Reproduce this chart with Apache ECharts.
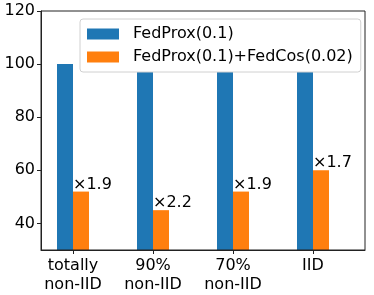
<!DOCTYPE html>
<html><head><meta charset="utf-8">
<script src="https://cdn.jsdelivr.net/npm/echarts@6/dist/echarts.min.js"></script>
<style>html,body{margin:0;padding:0;background:#fff}#c{width:374px;height:295px}</style>
</head><body><div id="c"></div>
<script>
var categories = ['totally\nnon-IID', '90%\nnon-IID', '70%\nnon-IID', 'IID'];
var fedProx = [100, 100, 100, 100];
var fedProxCos = [52, 45, 52, 60];
var speedups = ['×1.9', '×2.2', '×1.9', '×1.7'];
var yTicks = [40, 60, 80, 100, 120];
var seriesNames = ['FedProx(0.1)', 'FedProx(0.1)+FedCos(0.02)'];

var font = 'DejaVu Sans';
var fs = 16;
var chart = echarts.init(document.getElementById('c'), null, {renderer: 'canvas'});
chart.setOption({
  animation: false,
  textStyle: {fontFamily: font},
  grid: [
    {left: 33, right: 21, top: 11, bottom: 45},
    {left: 41, right: 9, top: 11, bottom: 45, show: true, borderColor: '#222', borderWidth: 1, backgroundColor: 'transparent', z: 3}
  ],
  legend: {
    orient: 'vertical', left: 80, top: 19,
    backgroundColor: '#fff', borderColor: '#d0d0d0', borderWidth: 1, borderRadius: 3,
    padding: [7, 8, 7, 7], itemGap: 7, itemWidth: 32, itemHeight: 11, icon: 'rect',
    textStyle: {fontFamily: font, fontSize: fs, color: '#000', padding: [0, 0, 0, 9]},
    data: seriesNames, z: 10
  },
  xAxis: [
    {type: 'category', gridIndex: 0, data: categories,
     axisLine: {show: false},
     axisTick: {show: true, alignWithLabel: true, length: 4, lineStyle: {color: '#222'}},
     axisLabel: {fontFamily: font, fontSize: fs, color: '#000', margin: 6, lineHeight: 19}},
    {type: 'value', gridIndex: 1, min: 0, max: 1, axisLine: {show: true, lineStyle: {color: '#222'}},
     axisTick: {show: false}, axisLabel: {show: false}, splitLine: {show: false}}
  ],
  yAxis: [
    {type: 'value', gridIndex: 0, min: 30, max: 120, show: false, splitLine: {show: false}},
    {type: 'value', gridIndex: 1, min: 30, max: 120,
     axisLine: {show: true, lineStyle: {color: '#222'}},
     axisTick: {show: true, length: 4, lineStyle: {color: '#222'}, customValues: yTicks},
     axisLabel: {fontFamily: font, fontSize: fs, color: '#000', margin: 6, customValues: yTicks},
     splitLine: {show: false}}
  ],
  series: [
    {name: seriesNames[0], type: 'bar', xAxisIndex: 0, yAxisIndex: 0, data: fedProx,
     barWidth: 16, barGap: '0%', itemStyle: {color: '#1f77b4'}},
    {name: seriesNames[1], type: 'bar', xAxisIndex: 0, yAxisIndex: 0,
     data: fedProxCos.map(function (v, i) {
       return {value: v, label: {formatter: speedups[i]}};
     }),
     barWidth: 16, itemStyle: {color: '#ff7f0e'},
     label: {show: true, position: [0, 1], align: 'left', verticalAlign: 'bottom',
             fontFamily: font, fontSize: fs, color: '#000'}}
  ]
});
</script></body></html>
